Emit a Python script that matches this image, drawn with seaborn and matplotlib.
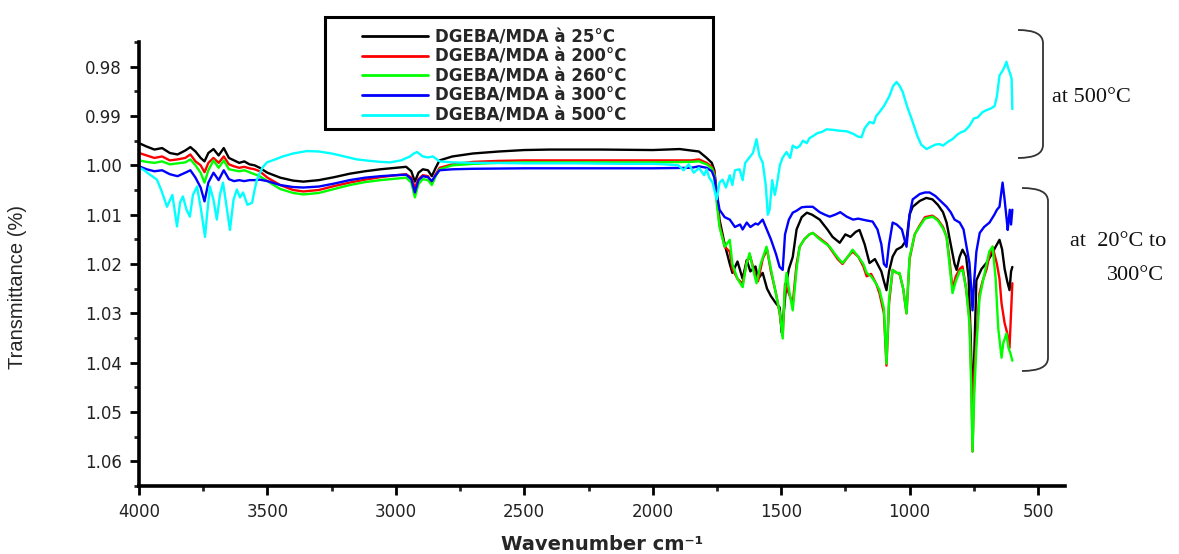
import pandas as pd
import seaborn as sns
import matplotlib.pyplot as plt
from matplotlib.path import Path
from matplotlib.patches import PathPatch, Rectangle
from matplotlib.ticker import MultipleLocator, FormatStrFormatter

# sample names and colours
labels = ["DGEBA/MDA à 25°C", "DGEBA/MDA à 200°C", "DGEBA/MDA à 260°C",
          "DGEBA/MDA à 300°C", "DGEBA/MDA à 500°C"]
colors = ["#000000", "#ff0000", "#00ff00", "#0000ff", "#00ffff"]

# spectra: (wavenumber cm-1, transmittance)
pts_25 = [
    (4000, 0.9955), (3970, 0.9962), (3940, 0.9968), (3910, 0.9965), (3880, 0.9975),
    (3850, 0.9978), (3820, 0.9970), (3800, 0.9963), (3780, 0.9972), (3760, 0.9985),
    (3745, 0.9992), (3730, 0.9975), (3710, 0.9967), (3690, 0.9980), (3670, 0.9965),
    (3650, 0.9985), (3630, 0.9990), (3610, 0.9995), (3590, 0.9992), (3570, 0.9998),
    (3550, 1.0000), (3530, 1.0005), (3500, 1.0015), (3450, 1.0025), (3400, 1.0031),
    (3360, 1.0033), (3300, 1.0030), (3240, 1.0024), (3180, 1.0017), (3120, 1.0012),
    (3060, 1.0008), (3000, 1.0005), (2960, 1.0003), (2940, 1.0012), (2926, 1.0033),
    (2912, 1.0015), (2895, 1.0008), (2875, 1.0010), (2860, 1.0022), (2845, 1.0005),
    (2830, 0.9990), (2780, 0.9982), (2700, 0.9976), (2600, 0.9972), (2500, 0.9969),
    (2400, 0.9968), (2200, 0.9968), (2000, 0.9969), (1895, 0.9967), (1820, 0.9972),
    (1790, 0.9985), (1770, 0.9995), (1760, 1.0010), (1750, 1.0060), (1740, 1.0110),
    (1720, 1.0160), (1700, 1.0200), (1690, 1.0218), (1670, 1.0195), (1650, 1.0230),
    (1634, 1.0192), (1620, 1.0215), (1600, 1.0205), (1590, 1.0230), (1572, 1.0218),
    (1555, 1.0250), (1540, 1.0265), (1520, 1.0280), (1506, 1.0288), (1498, 1.0339),
    (1490, 1.0300), (1480, 1.0240), (1470, 1.0210), (1455, 1.0186), (1440, 1.0130),
    (1420, 1.0105), (1400, 1.0096), (1380, 1.0100), (1350, 1.0110), (1320, 1.0130),
    (1300, 1.0145), (1272, 1.0157), (1250, 1.0140), (1230, 1.0145), (1210, 1.0135),
    (1195, 1.0131), (1175, 1.0160), (1156, 1.0198), (1135, 1.0190), (1110, 1.0215),
    (1100, 1.0235), (1090, 1.0253), (1080, 1.0215), (1066, 1.0185), (1051, 1.0171),
    (1030, 1.0165), (1012, 1.0151), (1000, 1.0100), (988, 1.0084), (960, 1.0072),
    (935, 1.0066), (911, 1.0069), (890, 1.0080), (870, 1.0095), (856, 1.0116),
    (840, 1.0160), (825, 1.0200), (817, 1.0212), (805, 1.0185), (794, 1.0171),
    (780, 1.0185), (770, 1.0230), (762, 1.0350), (755, 1.0492), (748, 1.0380),
    (740, 1.0233), (720, 1.0210), (701, 1.0198), (680, 1.0180), (665, 1.0165),
    (650, 1.0151), (640, 1.0170), (630, 1.0210), (620, 1.0235), (611, 1.0253),
    (605, 1.0215), (600, 1.0206),
]

pts_200 = [
    (4000, 0.9975), (3970, 0.9980), (3940, 0.9985), (3910, 0.9982), (3880, 0.9990),
    (3850, 0.9988), (3820, 0.9985), (3800, 0.9978), (3780, 0.9992), (3760, 1.0000),
    (3745, 1.0014), (3730, 0.9995), (3710, 0.9985), (3690, 0.9995), (3670, 0.9982),
    (3650, 0.9998), (3630, 1.0002), (3610, 1.0005), (3590, 1.0003), (3570, 1.0006),
    (3550, 1.0008), (3530, 1.0012), (3500, 1.0025), (3450, 1.0040), (3400, 1.0050),
    (3360, 1.0053), (3300, 1.0050), (3240, 1.0042), (3180, 1.0035), (3120, 1.0029),
    (3060, 1.0024), (3000, 1.0020), (2960, 1.0018), (2940, 1.0025), (2926, 1.0045),
    (2912, 1.0028), (2895, 1.0020), (2875, 1.0022), (2860, 1.0035), (2845, 1.0018),
    (2830, 1.0005), (2780, 0.9998), (2700, 0.9993), (2600, 0.9991), (2500, 0.9990),
    (2200, 0.9990), (2000, 0.9990), (1850, 0.9990), (1820, 0.9988), (1790, 0.9995),
    (1770, 1.0003), (1760, 1.0015), (1750, 1.0070), (1740, 1.0120), (1720, 1.0165),
    (1700, 1.0175), (1690, 1.0210), (1670, 1.0230), (1650, 1.0240), (1634, 1.0195),
    (1620, 1.0185), (1600, 1.0225), (1590, 1.0235), (1572, 1.0190), (1555, 1.0170),
    (1540, 1.0215), (1520, 1.0260), (1506, 1.0300), (1494, 1.0345), (1485, 1.0240),
    (1470, 1.0260), (1455, 1.0280), (1440, 1.0200), (1428, 1.0165), (1410, 1.0150),
    (1390, 1.0140), (1377, 1.0137), (1350, 1.0148), (1320, 1.0160), (1300, 1.0175),
    (1280, 1.0190), (1261, 1.0200), (1240, 1.0185), (1222, 1.0175), (1200, 1.0185),
    (1180, 1.0205), (1167, 1.0225), (1150, 1.0220), (1130, 1.0240), (1117, 1.0260),
    (1100, 1.0300), (1090, 1.0406), (1080, 1.0280), (1066, 1.0212), (1050, 1.0218),
    (1039, 1.0220), (1025, 1.0250), (1012, 1.0300), (1000, 1.0190), (980, 1.0140),
    (961, 1.0122), (940, 1.0105), (911, 1.0102), (890, 1.0110), (870, 1.0125),
    (856, 1.0145), (845, 1.0190), (833, 1.0250), (820, 1.0225), (805, 1.0210),
    (794, 1.0205), (780, 1.0250), (767, 1.0310), (760, 1.0420), (755, 1.0580),
    (748, 1.0420), (740, 1.0350), (728, 1.0260), (716, 1.0235), (700, 1.0210),
    (690, 1.0185), (677, 1.0165), (660, 1.0200), (650, 1.0230), (642, 1.0280),
    (630, 1.0320), (620, 1.0340), (611, 1.0370), (605, 1.0300), (600, 1.0239),
]

pts_260 = [
    (4000, 0.9990), (3970, 0.9993), (3940, 0.9995), (3910, 0.9992), (3880, 0.9998),
    (3850, 0.9996), (3820, 0.9994), (3800, 0.9988), (3780, 1.0000), (3760, 1.0015),
    (3745, 1.0035), (3730, 1.0010), (3710, 0.9990), (3690, 1.0005), (3670, 0.9990),
    (3650, 1.0008), (3630, 1.0010), (3610, 1.0012), (3590, 1.0010), (3570, 1.0014),
    (3550, 1.0018), (3530, 1.0022), (3500, 1.0032), (3450, 1.0048), (3400, 1.0056),
    (3360, 1.0059), (3300, 1.0056), (3240, 1.0048), (3180, 1.0040), (3120, 1.0034),
    (3060, 1.0030), (3000, 1.0027), (2960, 1.0025), (2940, 1.0035), (2926, 1.0065),
    (2912, 1.0038), (2895, 1.0028), (2875, 1.0030), (2860, 1.0040), (2845, 1.0022),
    (2830, 1.0008), (2780, 1.0000), (2700, 0.9997), (2600, 0.9995), (2500, 0.9994),
    (2200, 0.9994), (2000, 0.9994), (1850, 0.9993), (1820, 0.9992), (1790, 0.9998),
    (1770, 1.0006), (1760, 1.0020), (1750, 1.0080), (1740, 1.0125), (1720, 1.0165),
    (1700, 1.0151), (1690, 1.0200), (1670, 1.0230), (1650, 1.0247), (1635, 1.0200),
    (1623, 1.0178), (1610, 1.0210), (1596, 1.0239), (1580, 1.0200), (1557, 1.0165),
    (1540, 1.0210), (1518, 1.0267), (1505, 1.0300), (1494, 1.0351), (1487, 1.0260),
    (1479, 1.0218), (1467, 1.0260), (1455, 1.0294), (1440, 1.0210), (1428, 1.0165),
    (1410, 1.0150), (1390, 1.0140), (1377, 1.0137), (1350, 1.0150), (1311, 1.0165),
    (1290, 1.0180), (1275, 1.0190), (1261, 1.0198), (1240, 1.0185), (1222, 1.0171),
    (1200, 1.0185), (1180, 1.0200), (1167, 1.0218), (1150, 1.0225), (1130, 1.0240),
    (1117, 1.0253), (1100, 1.0290), (1090, 1.0402), (1080, 1.0270), (1066, 1.0212),
    (1050, 1.0218), (1039, 1.0218), (1025, 1.0250), (1012, 1.0300), (1000, 1.0186),
    (980, 1.0140), (961, 1.0124), (940, 1.0108), (911, 1.0104), (890, 1.0112),
    (870, 1.0128), (856, 1.0145), (845, 1.0200), (833, 1.0259), (820, 1.0235),
    (805, 1.0215), (794, 1.0212), (780, 1.0250), (767, 1.0320), (760, 1.0450),
    (755, 1.0580), (748, 1.0460), (740, 1.0369), (728, 1.0270), (716, 1.0239),
    (700, 1.0200), (690, 1.0175), (677, 1.0165), (665, 1.0230), (655, 1.0330),
    (642, 1.0390), (635, 1.0360), (623, 1.0341), (615, 1.0370), (608, 1.0380),
    (600, 1.0396),
]

pts_300 = [
    (4000, 1.0002), (3970, 1.0008), (3940, 1.0012), (3910, 1.0010), (3880, 1.0018),
    (3850, 1.0022), (3820, 1.0015), (3800, 1.0010), (3780, 1.0025), (3760, 1.0045),
    (3745, 1.0073), (3730, 1.0035), (3710, 1.0015), (3690, 1.0030), (3670, 1.0010),
    (3650, 1.0028), (3630, 1.0032), (3610, 1.0030), (3590, 1.0032), (3570, 1.0030),
    (3550, 1.0030), (3530, 1.0029), (3500, 1.0032), (3450, 1.0040), (3400, 1.0044),
    (3360, 1.0045), (3300, 1.0043), (3240, 1.0037), (3180, 1.0030), (3120, 1.0025),
    (3060, 1.0022), (3000, 1.0020), (2960, 1.0019), (2940, 1.0028), (2926, 1.0055),
    (2912, 1.0030), (2895, 1.0022), (2875, 1.0024), (2860, 1.0032), (2845, 1.0020),
    (2830, 1.0010), (2780, 1.0008), (2700, 1.0007), (2500, 1.0006), (2000, 1.0006),
    (1850, 1.0005), (1820, 1.0002), (1790, 1.0005), (1770, 1.0012), (1760, 1.0025),
    (1750, 1.0060), (1740, 1.0090), (1720, 1.0105), (1700, 1.0110), (1680, 1.0125),
    (1660, 1.0120), (1650, 1.0130), (1634, 1.0116), (1620, 1.0125), (1600, 1.0118),
    (1590, 1.0120), (1572, 1.0110), (1560, 1.0125), (1540, 1.0150), (1520, 1.0180),
    (1506, 1.0206), (1494, 1.0212), (1485, 1.0140), (1470, 1.0110), (1455, 1.0096),
    (1440, 1.0092), (1420, 1.0085), (1400, 1.0084), (1377, 1.0084), (1350, 1.0095),
    (1330, 1.0100), (1311, 1.0104), (1290, 1.0100), (1270, 1.0095), (1245, 1.0104),
    (1220, 1.0110), (1200, 1.0108), (1183, 1.0110), (1165, 1.0112), (1144, 1.0114),
    (1125, 1.0130), (1110, 1.0160), (1100, 1.0200), (1090, 1.0206), (1080, 1.0160),
    (1066, 1.0116), (1050, 1.0120), (1030, 1.0130), (1020, 1.0150), (1012, 1.0165),
    (1000, 1.0100), (988, 1.0069), (960, 1.0058), (940, 1.0055), (922, 1.0055),
    (900, 1.0062), (880, 1.0072), (856, 1.0084), (840, 1.0095), (825, 1.0110),
    (805, 1.0116), (790, 1.0130), (780, 1.0160), (767, 1.0198), (760, 1.0250),
    (755, 1.0294), (748, 1.0230), (740, 1.0175), (727, 1.0137), (710, 1.0125),
    (689, 1.0116), (670, 1.0100), (660, 1.0090), (650, 1.0084), (643, 1.0055),
    (638, 1.0035), (630, 1.0070), (622, 1.0110), (618, 1.0131), (610, 1.0090),
    (605, 1.0120), (600, 1.0090),
]

pts_500 = [
    (4000, 1.0004), (3980, 1.0010), (3960, 1.0018), (3930, 1.0029), (3910, 1.0055),
    (3891, 1.0084), (3870, 1.0060), (3852, 1.0124), (3840, 1.0075), (3829, 1.0063),
    (3815, 1.0090), (3802, 1.0104), (3790, 1.0060), (3774, 1.0043), (3760, 1.0085),
    (3743, 1.0145), (3735, 1.0100), (3724, 1.0043), (3710, 1.0070), (3697, 1.0110),
    (3685, 1.0060), (3673, 1.0035), (3660, 1.0080), (3646, 1.0131), (3632, 1.0070),
    (3619, 1.0049), (3607, 1.0065), (3595, 1.0055), (3578, 1.0080), (3560, 1.0076),
    (3550, 1.0050), (3541, 1.0029), (3520, 1.0005), (3502, 0.9994), (3470, 0.9988),
    (3440, 0.9982), (3400, 0.9976), (3346, 0.9971), (3300, 0.9972), (3250, 0.9976),
    (3200, 0.9982), (3152, 0.9988), (3100, 0.9991), (3060, 0.9993), (3023, 0.9994),
    (2980, 0.9990), (2945, 0.9982), (2930, 0.9976), (2918, 0.9973), (2905, 0.9978),
    (2895, 0.9982), (2875, 0.9984), (2856, 0.9982), (2840, 0.9988), (2829, 0.9992),
    (2780, 0.9994), (2700, 0.9995), (2634, 0.9995), (2500, 0.9996), (2300, 0.9996),
    (2100, 0.9997), (2000, 0.9997), (1950, 0.9998), (1900, 1.0000), (1880, 1.0010),
    (1860, 0.9998), (1840, 1.0015), (1820, 1.0005), (1800, 1.0020), (1790, 1.0008),
    (1780, 1.0025), (1767, 1.0035), (1760, 1.0050), (1751, 1.0069), (1740, 1.0035),
    (1728, 1.0029), (1715, 1.0045), (1700, 1.0020), (1690, 1.0040), (1680, 1.0010),
    (1662, 1.0008), (1650, 1.0030), (1640, 0.9995), (1625, 0.9985), (1610, 0.9975),
    (1596, 0.9947), (1585, 0.9980), (1572, 0.9994), (1560, 1.0040), (1552, 1.0100),
    (1545, 1.0090), (1535, 1.0030), (1525, 1.0060), (1518, 1.0043), (1505, 1.0000),
    (1495, 0.9985), (1479, 0.9973), (1465, 0.9985), (1455, 0.9960), (1440, 0.9965),
    (1428, 0.9961), (1415, 0.9950), (1400, 0.9955), (1390, 0.9945), (1377, 0.9941),
    (1360, 0.9935), (1340, 0.9932), (1323, 0.9927), (1300, 0.9928), (1270, 0.9930),
    (1245, 0.9931), (1220, 0.9936), (1200, 0.9942), (1187, 0.9943), (1175, 0.9925),
    (1165, 0.9918), (1156, 0.9912), (1140, 0.9915), (1130, 0.9900), (1117, 0.9892),
    (1100, 0.9880), (1078, 0.9859), (1065, 0.9840), (1051, 0.9831), (1040, 0.9838),
    (1027, 0.9851), (1010, 0.9880), (988, 0.9912), (970, 0.9940), (955, 0.9958),
    (934, 0.9967), (915, 0.9962), (900, 0.9958), (883, 0.9957), (870, 0.9960),
    (850, 0.9952), (833, 0.9947), (815, 0.9938), (800, 0.9933), (785, 0.9930),
    (767, 0.9920), (750, 0.9905), (735, 0.9903), (716, 0.9892), (700, 0.9888),
    (685, 0.9885), (669, 0.9880), (660, 0.9860), (650, 0.9818), (640, 0.9810),
    (630, 0.9800), (623, 0.9790), (615, 0.9805), (608, 0.9815), (603, 0.9824),
    (600, 0.9886),
]

series = [pts_25, pts_200, pts_260, pts_300, pts_500]
frames = []
for lab, pts in zip(labels, series):
    wn, tr = zip(*pts)
    frames.append(pd.DataFrame({"wavenumber": wn, "T": tr, "sample": lab}))
df = pd.concat(frames, ignore_index=True)

sns.set_style("ticks")
plt.rcParams["font.family"] = ["DejaVu Sans"]

W, H = 1179, 554
fig = plt.figure(figsize=(W / 100, H / 100), dpi=100)
ax = fig.add_axes([139 / W, 1 - 486 / H, 926 / W, 444 / H])

sns.lineplot(data=df, x="wavenumber", y="T", hue="sample",
             palette=dict(zip(labels, colors)), sort=False, estimator=None,
             linewidth=1.7, ax=ax, legend=True)

ax.set_xlim(4000, 395)
ax.set_ylim(1.065, 0.975)
ax.xaxis.set_major_locator(MultipleLocator(500))
ax.xaxis.set_minor_locator(MultipleLocator(250))
ax.yaxis.set_major_locator(MultipleLocator(0.01))
ax.yaxis.set_minor_locator(MultipleLocator(0.005))
ax.yaxis.set_major_formatter(FormatStrFormatter("%.2f"))
ax.tick_params(which="major", direction="out", length=6.5, width=2,
               labelsize=12, pad=6, colors="black", labelcolor="#222222")
ax.tick_params(which="minor", direction="out", length=3.5, width=2)
sns.despine(ax=ax)
for s in ["left", "bottom"]:
    ax.spines[s].set_linewidth(2.6)
    ax.spines[s].set_color("black")

ax.set_xlabel("Wavenumber cm⁻¹", fontsize=14, fontweight="bold", labelpad=10)
ax.set_ylabel("Transmittance (%)", fontsize=14.5,
              family=["Liberation Sans", "DejaVu Sans"])
ax.yaxis.set_label_coords((27 - 139) / 926, (486 - 287) / 444)

# legend, with its own framed box
handles, _ = ax.get_legend_handles_labels()
for h in handles:
    h.set_linewidth(2)
leg = ax.legend(handles, labels, loc="upper left",
                bbox_to_anchor=(362 / W, 1 - 28 / H), bbox_transform=fig.transFigure,
                frameon=False, handlelength=3.95, handletextpad=0.45,
                labelspacing=0.1, borderpad=0, borderaxespad=0,
                prop={"family": "DejaVu Sans", "weight": "bold", "size": 12})
leg.set_zorder(6)
ax.add_patch(Rectangle((325 / W, 1 - 129 / H), 388 / W, 112 / H,
                       transform=fig.transFigure, fill=True, fc="white",
                       ec="black", lw=2.2, zorder=5, clip_on=False))


def fx(px, py):
    return (px / W, 1 - py / H)


# braces on the right
for (x0, xv, y0, y1) in [(1018, 1043, 30, 158), (1022, 1048, 188, 371)]:
    verts = [fx(x0, y0), fx(xv, y0), fx(xv, y0 + 13), fx(xv, y1 - 13),
             fx(xv, y1), fx(x0, y1)]
    codes = [Path.MOVETO, Path.CURVE3, Path.CURVE3, Path.LINETO,
             Path.CURVE3, Path.CURVE3]
    fig.patches.append(PathPatch(Path(verts, codes), transform=fig.transFigure,
                                 fill=False, ec="#333333", lw=1.3))

serif = dict(family=["Liberation Serif", "DejaVu Serif"], fontsize=16,
             color="#111111")
fig.text(1052 / W, 1 - 98 / H, "at 500°C", ha="left", va="center", **serif)
fig.text(1118 / W, 1 - 242 / H, "at  20°C to", ha="center", va="center", **serif)
fig.text(1136 / W, 1 - 275 / H, "300°C", ha="center", va="center", **serif)

fig.savefig("out.png", dpi=100)
